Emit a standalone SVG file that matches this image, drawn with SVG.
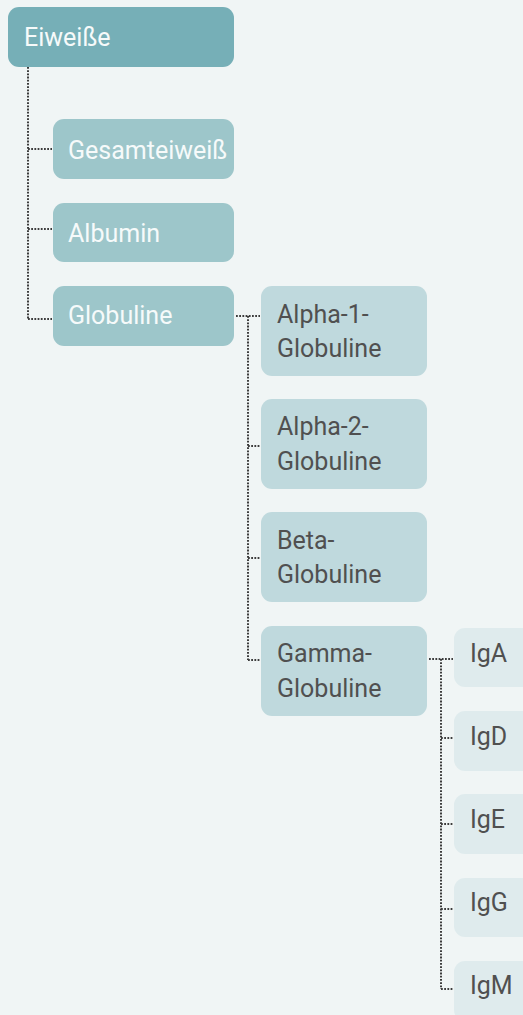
<svg xmlns="http://www.w3.org/2000/svg" width="523" height="1015" viewBox="0 0 523 1015">
  <style>
    .lbl { font-family: Roboto, "Liberation Sans", Arial, sans-serif; font-size: 25px; letter-spacing: 0px; }
    .l0 rect { fill: #76afb7; }
    .l1 rect { fill: #9dc6ca; }
    .l2 rect { fill: #bfd9dd; }
    .l3 rect { fill: #dfebed; }
    .l0 text, .l1 text { fill: #f6fafa; }
    .l2 text, .l3 text { fill: #505050; }
    .conn { fill: none; stroke: #3c3c3c; stroke-width: 2; stroke-dasharray: 1.8 1.4; }
  </style>
  <rect width="523" height="1015" fill="#f0f5f5"/>

  <!-- connectors -->
  <g id="connectors">
    <path class="conn" d="M28 67 V319 M28 149 H52 M28 229 H52 M28 319 H52"/>
    <path class="conn" d="M236 316 H260 M248 316 V660 M248 446 H260 M248 558 H260 M248 660 H260"/>
    <path class="conn" d="M429 659 H453 M441 659 V989 M441 738 H453 M441 824 H453 M441 909 H453 M441 989 H453"/>
  </g>

  <!-- root -->
  <g id="eiweisse" class="l0">
    <rect x="8" y="7" width="226" height="60" rx="11"/>
    <text class="lbl" x="24" y="46">Eiweiße</text>
  </g>

  <!-- first level -->
  <g id="gesamteiweiss" class="l1">
    <rect x="53" y="119" width="181" height="60" rx="11"/>
    <text class="lbl" x="68" y="159">Gesamteiweiß</text>
  </g>
  <g id="albumin" class="l1">
    <rect x="53" y="203" width="181" height="59" rx="11"/>
    <text class="lbl" x="68" y="242">Albumin</text>
  </g>
  <g id="globuline" class="l1">
    <rect x="53" y="286" width="181" height="60" rx="11"/>
    <text class="lbl" x="68" y="324">Globuline</text>
  </g>

  <!-- globulin fractions -->
  <g id="alpha1" class="l2">
    <rect x="261" y="286" width="166" height="90" rx="11"/>
    <text class="lbl" x="277" y="323">Alpha-1-</text>
    <text class="lbl" x="277" y="357">Globuline</text>
  </g>
  <g id="alpha2" class="l2">
    <rect x="261" y="399" width="166" height="90" rx="11"/>
    <text class="lbl" x="277" y="435">Alpha-2-</text>
    <text class="lbl" x="277" y="470">Globuline</text>
  </g>
  <g id="beta" class="l2">
    <rect x="261" y="512" width="166" height="90" rx="11"/>
    <text class="lbl" x="277" y="549">Beta-</text>
    <text class="lbl" x="277" y="583">Globuline</text>
  </g>
  <g id="gamma" class="l2">
    <rect x="261" y="626" width="166" height="90" rx="11"/>
    <text class="lbl" x="277" y="662">Gamma-</text>
    <text class="lbl" x="277" y="697">Globuline</text>
  </g>

  <!-- immunoglobulins -->
  <g id="iga" class="l3">
    <rect x="454" y="628" width="90" height="59" rx="11"/>
    <text class="lbl" x="470" y="662">IgA</text>
  </g>
  <g id="igd" class="l3">
    <rect x="454" y="711" width="90" height="60" rx="11"/>
    <text class="lbl" x="470" y="745">IgD</text>
  </g>
  <g id="ige" class="l3">
    <rect x="454" y="794" width="90" height="60" rx="11"/>
    <text class="lbl" x="470" y="828">IgE</text>
  </g>
  <g id="igg" class="l3">
    <rect x="454" y="878" width="90" height="59" rx="11"/>
    <text class="lbl" x="470" y="911">IgG</text>
  </g>
  <g id="igm" class="l3">
    <rect x="454" y="961" width="90" height="60" rx="11"/>
    <text class="lbl" x="470" y="994">IgM</text>
  </g>
</svg>
